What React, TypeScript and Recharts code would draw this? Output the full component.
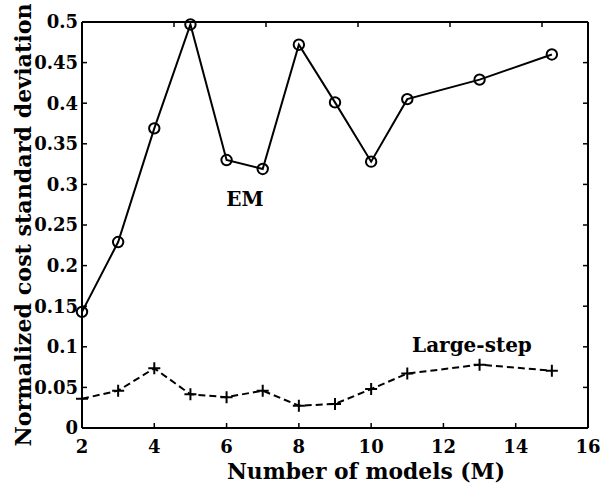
import React from "react";
import {
  LineChart,
  Line,
  XAxis,
  YAxis,
  Label,
  ReferenceDot,
} from "recharts";

// number of models M
const models = [2, 3, 4, 5, 6, 7, 8, 9, 10, 11, 13, 15];
// normalized cost standard deviation per method
const emStd = [0.143, 0.229, 0.369, 0.497, 0.33, 0.319, 0.472, 0.401, 0.328, 0.405, 0.429, 0.46];
const largeStepStd = [0.036, 0.046, 0.0735, 0.0415, 0.038, 0.046, 0.0275, 0.0296, 0.048, 0.067, 0.078, 0.0706];

const xTicks = [2, 4, 6, 8, 10, 12, 14, 16];
const yTicks = [0, 0.05, 0.1, 0.15, 0.2, 0.25, 0.3, 0.35, 0.4, 0.45, 0.5];

const data = models.map((m, i) => ({ m, em: emStd[i], ls: largeStepStd[i] }));

const FONT = "'DejaVu Serif', 'Liberation Serif', serif";
const W = 608;
const H = 485;
const LEFT = 82;
const RIGHT = 588;
const TOP = 22;
const BOTTOM = 428;
const TICK = 5;

const textProps = { fontFamily: FONT, fontWeight: 700, fill: "#000" };

const LeftTick = (props: any) => (
  <g>
    <line x1={LEFT} x2={LEFT + TICK} y1={props.y} y2={props.y} stroke="#000" strokeWidth={1.5} />
    <text x={LEFT - 4} y={props.y} dy="0.36em" textAnchor="end" fontSize={18} {...textProps}>
      {String(props.payload.value)}
    </text>
  </g>
);

const BottomTick = (props: any) => (
  <g>
    <line x1={props.x} x2={props.x} y1={BOTTOM} y2={BOTTOM - TICK} stroke="#000" strokeWidth={1.5} />
    <text x={props.x} y={BOTTOM + 25} textAnchor="middle" fontSize={18} {...textProps}>
      {String(props.payload.value)}
    </text>
  </g>
);

const RightTick = (props: any) => (
  <line x1={RIGHT} x2={RIGHT - TICK} y1={props.y} y2={props.y} stroke="#000" strokeWidth={1.5} />
);

const TopTick = (props: any) => (
  <line x1={props.x} x2={props.x} y1={TOP} y2={TOP + TICK} stroke="#000" strokeWidth={1.5} />
);

const CircleDot = (props: any) => (
  <circle key={props.index} cx={props.cx} cy={props.cy} r={5.2} fill="none" stroke="#000" strokeWidth={2} />
);

const PlusDot = (props: any) => (
  <path
    key={props.index}
    d={`M${props.cx - 6},${props.cy}H${props.cx + 6}M${props.cx},${props.cy - 6}V${props.cy + 6}`}
    stroke="#000"
    strokeWidth={2}
    fill="none"
  />
);

const XTitle = () => (
  <text x={366} y={479} textAnchor="middle" fontSize={21.8} {...textProps}>
    Number of models (M)
  </text>
);

const YTitle = () => (
  <text
    x={0}
    y={0}
    transform={`translate(31, ${(TOP + BOTTOM) / 2}) rotate(-90)`}
    textAnchor="middle"
    fontSize={22.2}
    {...textProps}
  >
    Normalized cost standard deviation
  </text>
);

const SeriesLabel = (text: string) => (props: any) => {
  const vb = props.viewBox || {};
  return (
    <text x={vb.cx ?? vb.x} y={vb.cy ?? vb.y} dy="0.36em" textAnchor="middle" fontSize={20} {...textProps}>
      {text}
    </text>
  );
};

export default function App() {
  return (
    <div style={{ position: "absolute", left: 0, top: 0, width: W, height: H, background: "#fff" }}>
      <LineChart width={W} height={H} data={data} margin={{ top: 0, right: 0, bottom: 0, left: 0 }}>
        <XAxis
          dataKey="m"
          type="number"
          domain={[2, 16]}
          ticks={xTicks}
          height={H - BOTTOM}
          axisLine={{ stroke: "#000", strokeWidth: 2 }}
          tickLine={false}
          tick={BottomTick}
          interval={0}
        >
          <Label content={XTitle} />
        </XAxis>
        <XAxis
          xAxisId="top"
          orientation="top"
          type="number"
          domain={[2, 16]}
          allowDataOverflow
          ticks={xTicks}
          height={TOP}
          axisLine={{ stroke: "#000", strokeWidth: 2 }}
          tickLine={false}
          tick={TopTick}
          interval={0}
        />
        <YAxis
          type="number"
          domain={[0, 0.5]}
          ticks={yTicks}
          width={LEFT}
          axisLine={{ stroke: "#000", strokeWidth: 2 }}
          tickLine={false}
          tick={LeftTick}
          interval={0}
        >
          <Label content={YTitle} />
        </YAxis>
        <YAxis
          yAxisId="right"
          orientation="right"
          type="number"
          domain={[0, 0.5]}
          allowDataOverflow
          ticks={yTicks}
          width={W - RIGHT}
          axisLine={{ stroke: "#000", strokeWidth: 2 }}
          tickLine={false}
          tick={RightTick}
          interval={0}
        />
        <Line
          dataKey="em"
          stroke="#000"
          strokeWidth={2}
          dot={CircleDot}
          activeDot={false}
          isAnimationActive={false}
        />
        <Line
          dataKey="ls"
          stroke="#000"
          strokeWidth={2}
          strokeDasharray="7 4"
          dot={PlusDot}
          activeDot={false}
          isAnimationActive={false}
        />
        <ReferenceDot x={6.51} y={0.282} r={0} fill="none" stroke="none" label={SeriesLabel("EM")} />
        <ReferenceDot x={12.79} y={0.103} r={0} fill="none" stroke="none" label={SeriesLabel("Large-step")} />
      </LineChart>
    </div>
  );
}
